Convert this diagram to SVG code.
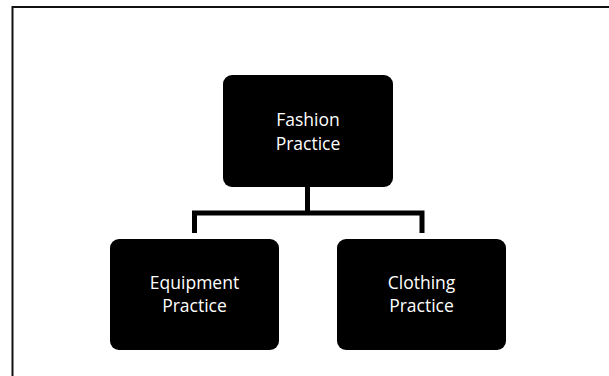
<svg xmlns="http://www.w3.org/2000/svg" width="609" height="376" viewBox="0 0 609 376">
<style>
.box{fill:#000;}
.lbl{fill:#fff;font-family:"Open Sans","Noto Sans",sans-serif;font-size:17.5px;text-anchor:middle;}
.conn{fill:none;stroke:#000;stroke-width:5;stroke-linejoin:miter;stroke-linecap:butt;}
</style>
<rect width="609" height="376" fill="#fff"/>
<path d="M12.5 376 V7 H609" fill="none" stroke="#111" stroke-width="2"/>
<g id="connectors">
<path class="conn" d="M307.5 187 V213"/>
<path class="conn" d="M194.5 233 V213 H422 V233"/>
</g>
<g id="fashion">
<rect class="box" x="223" y="75" width="170" height="112" rx="9"/>
<text class="lbl" x="308" y="126">Fashion</text>
<text class="lbl" x="308" y="149.5">Practice</text>
</g>
<g id="equipment">
<rect class="box" x="110" y="239" width="169" height="111" rx="9"/>
<text class="lbl" x="194.5" y="289">Equipment</text>
<text class="lbl" x="194.5" y="312">Practice</text>
</g>
<g id="clothing">
<rect class="box" x="337" y="239" width="169" height="111" rx="9"/>
<text class="lbl" x="421.5" y="289">Clothing</text>
<text class="lbl" x="421.5" y="312">Practice</text>
</g>
</svg>
